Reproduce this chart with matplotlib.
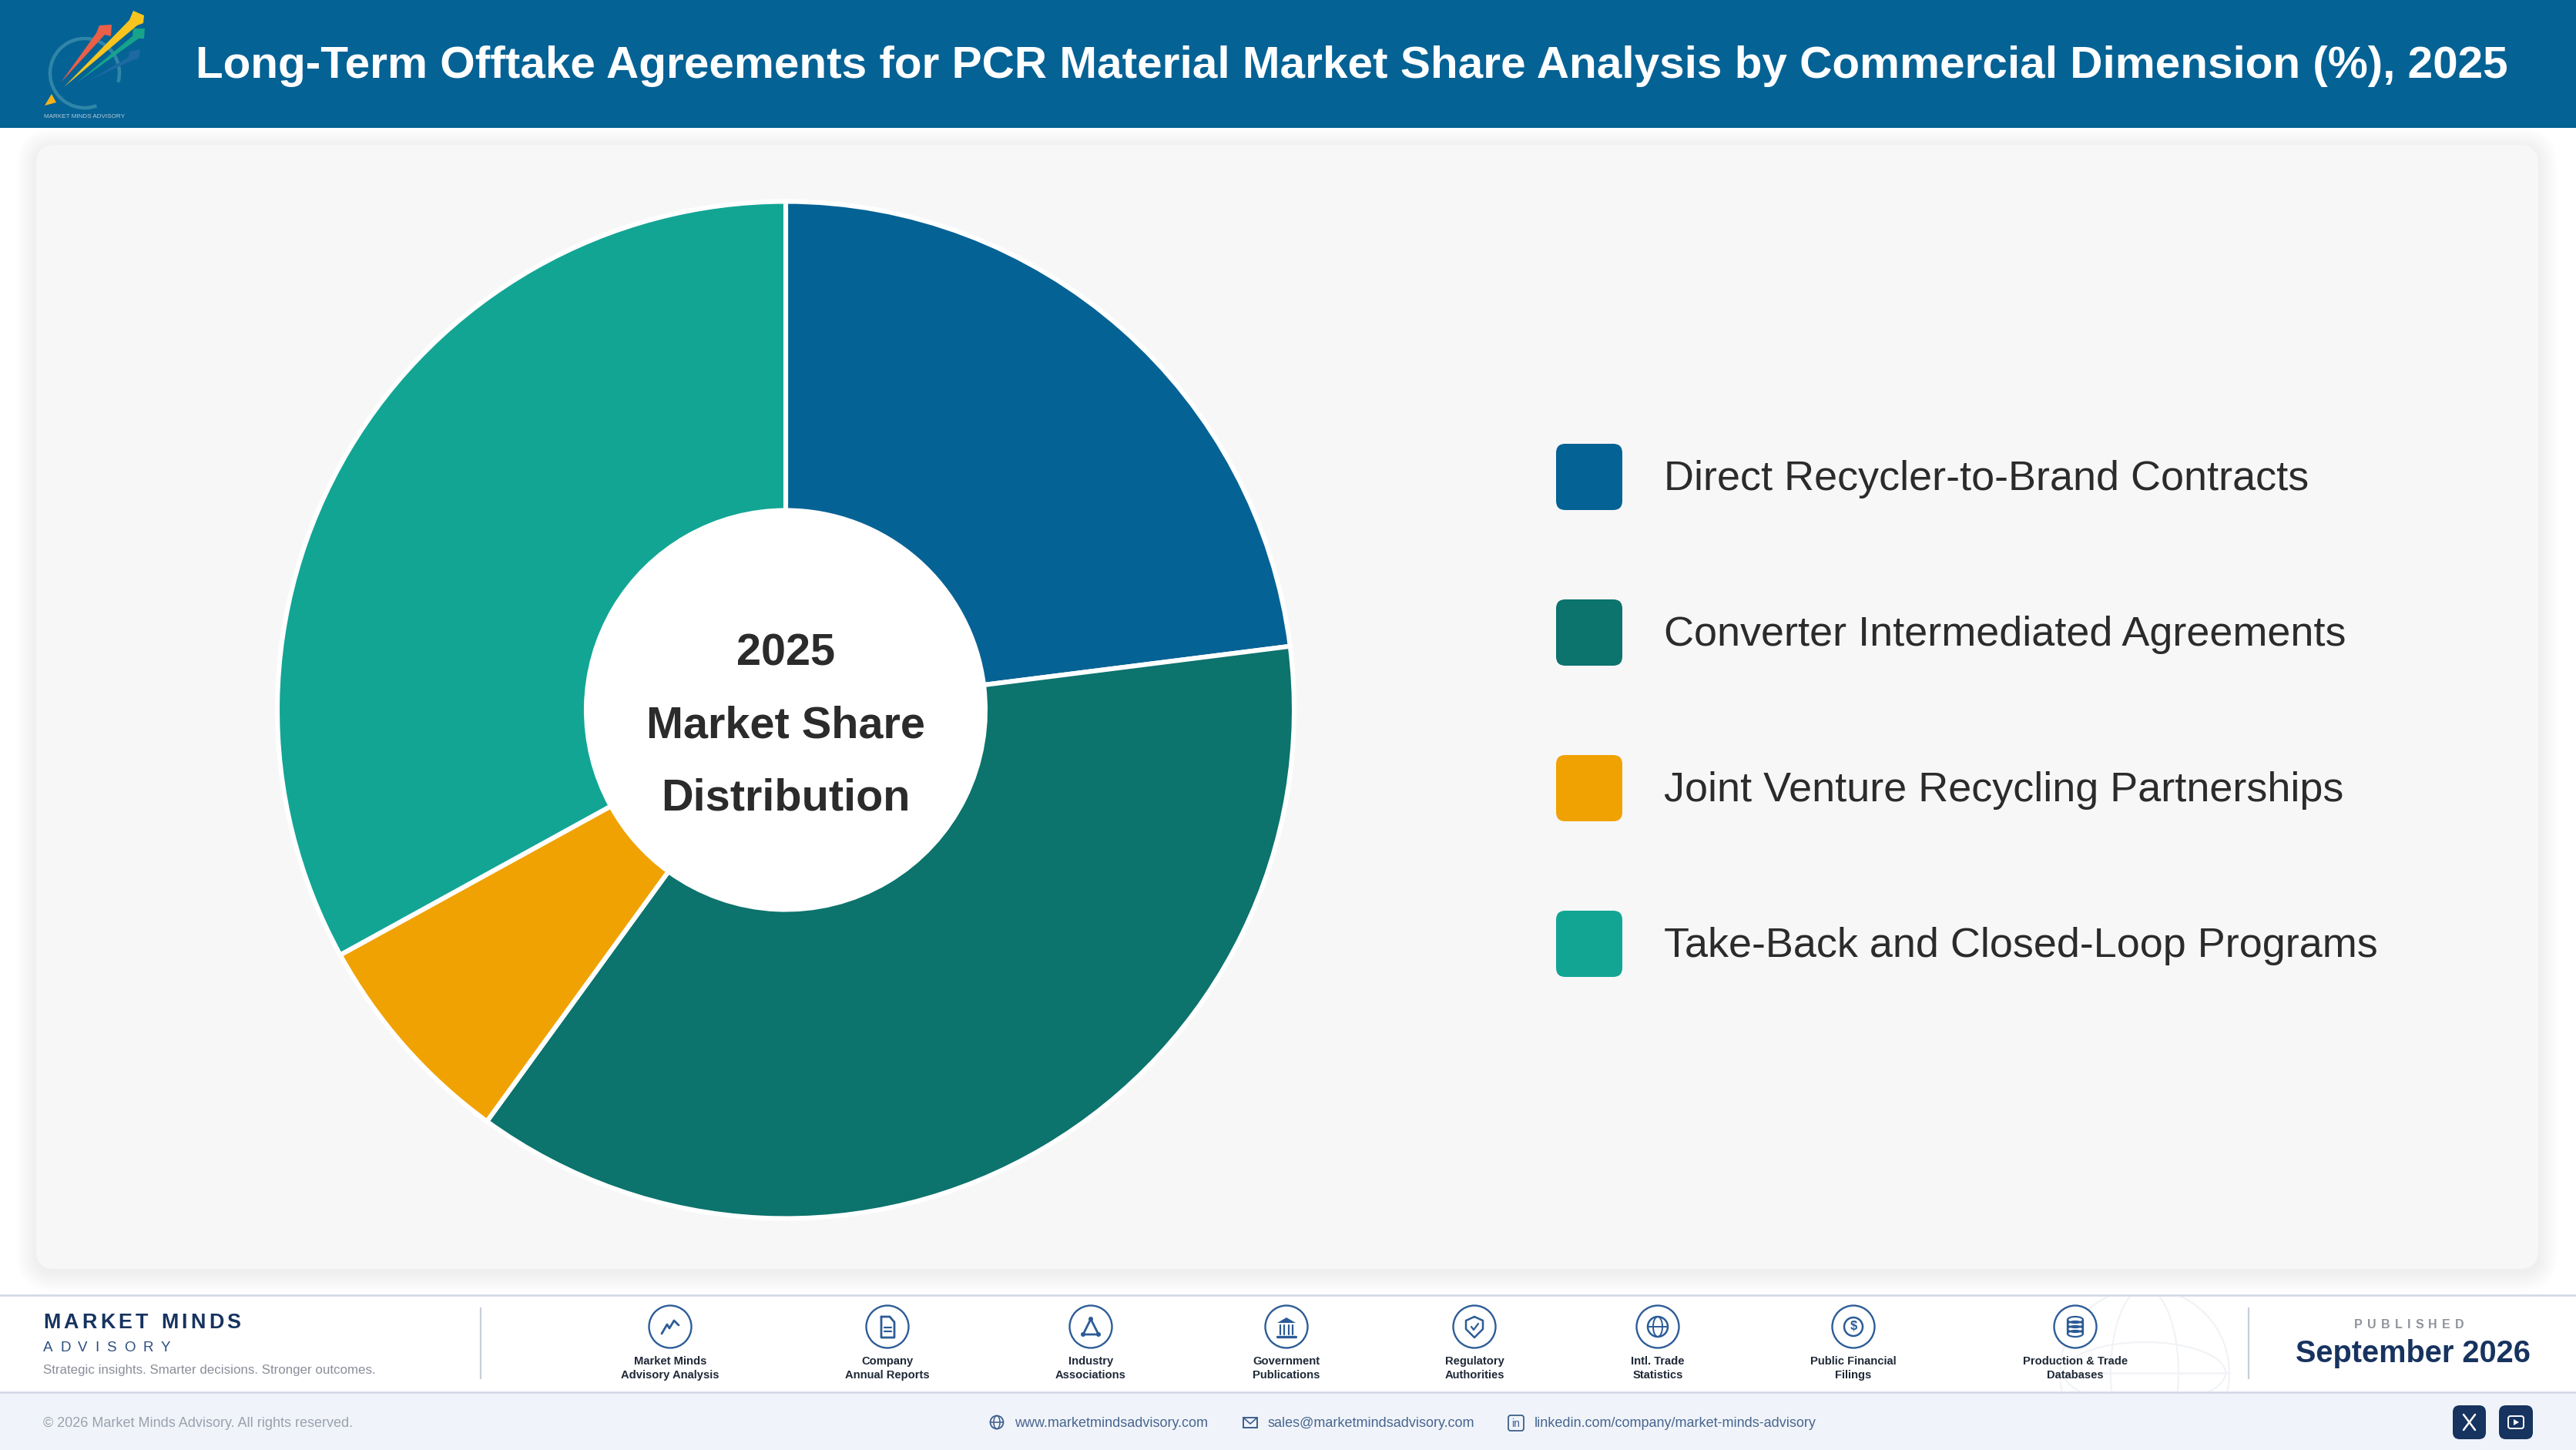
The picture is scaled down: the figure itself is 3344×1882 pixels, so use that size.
import numpy as np
import matplotlib
matplotlib.use("Agg")
import matplotlib.pyplot as plt
from matplotlib.patches import Arc, Circle, FancyBboxPatch, Polygon, Rectangle

plt.rcParams["font.family"] = ["Liberation Sans", "DejaVu Sans"]

# Data
segments = ["Direct Recycler-to-Brand Contracts", "Converter Intermediated Agreements",
            "Joint Venture Recycling Partnerships", "Take-Back and Closed-Loop Programs"]
shares = [23, 37, 7, 33]
colors = ["#056295", "#0C736D", "#F0A202", "#12A594"]

title = "Long-Term Offtake Agreements for PCR Material Market Share Analysis by Commercial Dimension (%), 2025"
center_lines = ["2025", "Market Share", "Distribution"]

source_labels = ["Market Minds\nAdvisory Analysis", "Company\nAnnual Reports", "Industry\nAssociations",
                 "Government\nPublications", "Regulatory\nAuthorities", "Intl. Trade\nStatistics",
                 "Public Financial\nFilings", "Production & Trade\nDatabases"]
source_x = [870, 1152, 1416, 1670, 1914, 2152, 2406, 2694]
contacts = ["www.marketmindsadvisory.com", "sales@marketmindsadvisory.com",
            "linkedin.com/company/market-minds-advisory"]
contact_x = [1317, 1646, 1992]

W, H = 3344, 1882
NAVY = "#17335F"
ICON = "#2C5C96"

fig = plt.figure(figsize=(W / 100, H / 100), dpi=100, facecolor="white")
bg = fig.add_axes([0, 0, 1, 1])
bg.set_xlim(0, W)
bg.set_ylim(H, 0)
bg.axis("off")


def rrect(x0, y0, x1, y1, r, color, alpha=1.0, z=2, ax=bg):
    p = FancyBboxPatch((x0 + r, y0 + r), x1 - x0 - 2 * r, y1 - y0 - 2 * r,
                       boxstyle=f"round,pad={r},rounding_size={r}",
                       fc=color, ec="none", alpha=alpha, zorder=z)
    ax.add_patch(p)
    return p


def line(xs, ys, color=ICON, lw=2.0, z=5):
    bg.plot(xs, ys, color=color, lw=lw, zorder=z, solid_capstyle="round", solid_joinstyle="round")


def spaced(x, y, s, gap, **kw):
    # letter spacing is not available in matplotlib, so place letters one by one
    r = fig.canvas.get_renderer()
    for ch in s:
        t = bg.text(x, y, ch, ha="left", va="center", **kw)
        if ch == " ":
            probe = bg.text(0, 0, "n", **{k: v for k, v in kw.items() if k != "zorder"})
            adv = probe.get_window_extent(r).width * 0.5
            probe.remove()
            t.remove()
        else:
            adv = t.get_window_extent(r).width
        x += adv + gap


# Header
bg.add_patch(Rectangle((0, 0), W, 166, fc="#056295", ec="none", zorder=1))
bg.text(254, 86, title, color="white", fontsize=42.08, fontweight="bold", va="center", ha="left", zorder=3)

# Logo
bg.add_patch(Arc((110, 95), 90, 90, theta1=70, theta2=375, ec="#2F86A8", lw=3.2, zorder=3))
bg.add_patch(Polygon([(58, 137), (67, 122), (73, 133)], fc="#F5B21B", ec="none", zorder=4))
bg.add_patch(Polygon([(79, 107), (125, 43), (129, 33), (145, 32), (144, 47), (136, 45)],
                     fc="#EA5F47", ec="none", zorder=4))
bg.add_patch(Polygon([(83, 113), (168, 26), (173, 14), (187, 20), (186, 30), (178, 33)],
                     fc="#F7C51E", ec="none", zorder=4))
bg.add_patch(Polygon([(100, 107), (172, 47), (173, 37), (188, 37), (187, 50), (180, 50)],
                     fc="#17A38A", ec="none", zorder=4))
bg.add_patch(Polygon([(115, 105), (167, 74), (168, 67), (182, 64), (180, 76), (172, 78)],
                     fc="#1D6AA3", ec="none", zorder=4))
bg.text(110, 151, "MARKET MINDS ADVISORY", color="#B7CAD6", fontsize=5.9, ha="center", va="center", zorder=4)

# Panel with a soft shadow
for i in range(16):
    grow = 26 - i * 1.6
    rrect(47 - grow, 188 - grow + 4, 3295 + grow, 1647 + grow + 4, 24 + grow, "#20242c", alpha=0.0035, z=1.5)
rrect(47, 188, 3295, 1647, 24, "#F7F7F8", z=2)

# Legend
for i, (name, col) in enumerate(zip(segments, colors)):
    yc = 619 + i * 202
    rrect(2020, yc - 43, 2106, yc + 43, 12, col, z=3)
    bg.text(2160, yc + 3, name, color="#2B2B2B", fontsize=38.9, va="center", ha="left", zorder=3)

# Footer
bg.add_patch(Rectangle((0, 1681), W, 126, fc="white", ec="none", zorder=1.6))
bg.add_patch(Rectangle((0, 1807), W, H - 1807, fc="#F0F4FA", ec="none", zorder=1.6))
bg.plot([0, W], [1681, 1681], color="#D3D6E6", lw=1.8, zorder=3)
bg.plot([0, W], [1807, 1807], color="#D3D6E6", lw=1.8, zorder=3)

# Faint globe behind the footer
clip = Rectangle((0, 1682), W, 124, transform=bg.transData)
GLOBE = "#F1F3F7"
for wx, wy in [(110, 220), (44, 220), (105, 80)]:
    a = bg.add_patch(Arc((2784, 1782), 2 * wx if wy == 220 else 210, wy, ec=GLOBE, lw=1.6, zorder=1.7))
    a.set_clip_path(clip)
g = bg.plot([2674, 2894], [1782, 1782], color=GLOBE, lw=1.8, zorder=1.7)[0]
g.set_clip_path(clip)

bg.plot([624, 624], [1698, 1789], color="#C9CFD9", lw=1.6, zorder=3)
bg.plot([2919, 2919], [1698, 1789], color="#C9CFD9", lw=1.6, zorder=3)

spaced(56, 1717, "MARKET MINDS", 4.3, color=NAVY, fontsize=19.4, fontweight="bold", zorder=5)
spaced(56, 1750, "ADVISORY", 9.7, color="#2C4E80", fontsize=13.5, zorder=5)
bg.text(56, 1778, "Strategic insights. Smarter decisions. Stronger outcomes.", color="#8A8F99",
        fontsize=12.2, va="center", zorder=5)
bg.text(56, 1847.5, "\u00a9 2026 Market Minds Advisory. All rights reserved.", color="#9AA1AE",
        fontsize=12.95, va="center", zorder=5)


def draw_icon(i, c, y):
    if i == 0:
        line([c - 11, c - 4, c - 1, c + 5, c + 11], [y + 9, y - 3, y + 2, y - 8, y - 2])
    elif i == 1:
        line([c - 8, c + 3, c + 9, c + 9, c - 8, c - 8], [y - 13, y - 13, y - 6, y + 14, y + 14, y - 13])
        line([c - 4, c + 5], [y + 1, y + 1], lw=1.6)
        line([c - 4, c + 5], [y + 6, y + 6], lw=1.6)
    elif i == 2:
        line([c, c + 10, c - 10, c], [y - 10, y + 10, y + 10, y - 10])
        for px, py in [(c, y - 10), (c + 10, y + 10), (c - 10, y + 10)]:
            bg.add_patch(Circle((px, py), 3, fc=ICON, ec="none", zorder=6))
    elif i == 3:
        bg.add_patch(Polygon([(c - 12, y - 5), (c, y - 12), (c + 12, y - 5)], fc=ICON, ec="none", zorder=6))
        for dx in [-8, -3, 3, 8]:
            line([c + dx, c + dx], [y - 2, y + 10], lw=1.6)
        line([c - 12, c + 12], [y + 13, y + 13], lw=2.4)
    elif i == 4:
        line([c, c + 11, c + 11, c, c - 11, c - 11, c], [y - 13, y - 8, y + 3, y + 14, y + 3, y - 8, y - 13], lw=1.8)
        line([c - 4, c - 1, c + 5], [y, y + 4, y - 4], lw=1.6)
    elif i == 5:
        bg.add_patch(Circle((c, y), 13, fc="none", ec=ICON, lw=1.8, zorder=6))
        bg.add_patch(Arc((c, y), 12, 26, ec=ICON, lw=1.4, zorder=6))
        line([c - 13, c + 13], [y, y], lw=1.4)
    elif i == 6:
        bg.add_patch(Circle((c, y), 12, fc="none", ec=ICON, lw=1.8, zorder=6))
        bg.text(c, y, "$", color=ICON, fontsize=12, fontweight="bold", ha="center", va="center", zorder=6)
    else:
        for dy in [-9, -3, 3, 9]:
            bg.add_patch(Arc((c, y + dy), 20, 8, ec=ICON, lw=1.6, zorder=6))
        line([c - 10, c - 10], [y - 9, y + 9], lw=1.6)
        line([c + 10, c + 10], [y - 9, y + 9], lw=1.6)


for i, (lab, cx) in enumerate(zip(source_labels, source_x)):
    bg.add_patch(Circle((cx, 1722), 27.5, fc="white", ec=ICON, lw=1.7, zorder=4))
    draw_icon(i, cx, 1722)
    for k, part in enumerate(lab.split("\n")):
        bg.text(cx, 1767 + k * 18, part, color="#1F2937", fontsize=10.6, fontweight="bold",
                ha="center", va="center", zorder=5)

spaced(3056, 1719, "PUBLISHED", 6.2, color="#8E939C", fontsize=11.5, fontweight="bold", zorder=5)
bg.text(3133, 1757, "September 2026", color=NAVY, fontsize=28.6, fontweight="bold", ha="center", va="center", zorder=5)

# Contact row
for txt, tx in zip(contacts, contact_x):
    bg.text(tx, 1847.5, txt, color="#48658F", fontsize=12.95, va="center", ha="left", zorder=5)
CON = "#3E5F8C"
bg.add_patch(Circle((1294, 1846), 8.5, fc="none", ec=CON, lw=1.3, zorder=5))
bg.add_patch(Arc((1294, 1846), 8, 17, ec=CON, lw=1.1, zorder=5))
line([1286, 1302], [1846, 1846], color=CON, lw=1.1)
bg.add_patch(Rectangle((1614, 1840), 18, 13, fc="none", ec=CON, lw=1.4, zorder=5))
line([1614, 1623, 1632], [1840, 1848, 1840], color=CON, lw=1.2)
rrect(1958, 1837, 1978, 1857, 3, "none", z=5).set(ec=CON, lw=1.3)
bg.text(1968, 1848, "in", color=CON, fontsize=10, ha="center", va="center", zorder=6)

rrect(3184, 1824, 3227, 1868, 9, NAVY, z=5)
rrect(3244, 1824, 3288, 1868, 9, NAVY, z=5)
line([3198, 3213], [1836, 1856], color="white", lw=1.8, z=6)
line([3213, 3198], [1836, 1856], color="white", lw=1.8, z=6)
rrect(3256, 1838, 3276, 1854, 3, "none", z=6).set(ec="white", lw=1.4)
bg.add_patch(Polygon([(3263, 1842), (3263, 1850), (3270, 1846)], fc="white", ec="none", zorder=7))

# Donut
cx, cy, R, hole = 1020, 921.5, 660, 259
ax = fig.add_axes([(cx - R) / W, 1 - (cy + R) / H, 2 * R / W, 2 * R / H])
ax.patch.set_alpha(0)
ax.pie(shares, colors=colors, startangle=90, counterclock=False, radius=1,
       wedgeprops=dict(width=1 - hole / R, edgecolor="white", linewidth=4.4))
ax.add_patch(Circle((0, 0), hole / R, fc="white", ec="none", zorder=5))
ax.set_xlim(-1, 1)
ax.set_ylim(-1, 1)
for k, txt in enumerate(center_lines):
    ax.text(0, (cy - (849 + k * 93.5)) / R, txt, color="#2B2B2B", fontsize=41.5,
            fontweight="bold", ha="center", va="center", zorder=6)

fig.savefig("out.png", dpi=100, facecolor="white")
